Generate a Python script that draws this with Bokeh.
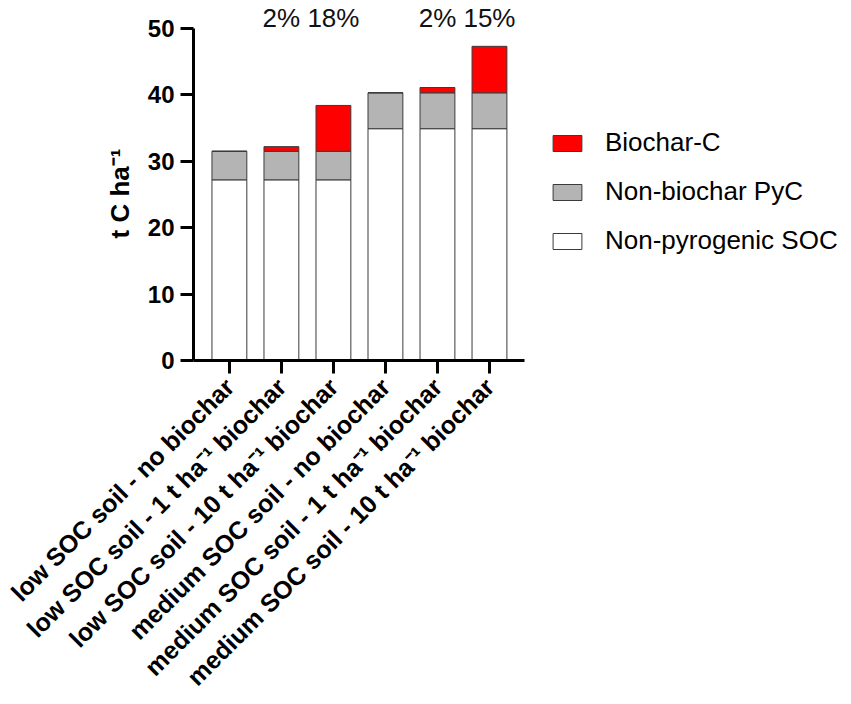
from math import pi
from bokeh.plotting import figure
from bokeh.models import Range1d, Legend, LegendItem, ColumnDataSource, FixedTicker, Title
from bokeh.embed import file_html
from bokeh.resources import INLINE
from bokeh.core.properties import value

# ---- data ----
categories = [
    "low SOC soil - no biochar",
    "low SOC soil - 1 t ha\u207b\u00b9 biochar",
    "low SOC soil - 10 t ha\u207b\u00b9 biochar",
    "medium SOC soil - no biochar",
    "medium SOC soil - 1 t ha\u207b\u00b9 biochar",
    "medium SOC soil - 10 t ha\u207b\u00b9 biochar",
]
non_pyrogenic_soc = [27.2, 27.2, 27.2, 34.9, 34.9, 34.9]
non_biochar_pyc = [4.3, 4.3, 4.3, 5.4, 5.4, 5.4]
biochar_c = [0.0, 0.7, 6.9, 0.0, 0.8, 7.0]
pct_labels = ["", "2%", "18%", "", "2%", "15%"]
y_ticks = [0, 10, 20, 30, 40, 50]
series_names = ["Non-pyrogenic SOC", "Non-biochar PyC", "Biochar-C"]
y_label = "t C ha\u207b\u00b9"

FONT = "Liberation Sans"

# category positions on a numeric scale (one unit per category)
xpos = [i + 0.5 for i in range(len(categories))]

src = ColumnDataSource(dict(
    x=xpos,
    soc=non_pyrogenic_soc,
    pyc=non_biochar_pyc,
    bc=biochar_c,
))

x_lo, x_hi = -0.19, len(categories) + 0.17

p = figure(
    width=851, height=704,
    x_range=Range1d(x_lo, 12.46),
    y_range=Range1d(0, 54.2),
    output_backend="svg", toolbar_location=None,
    min_border_left=193, min_border_right=0,
    min_border_top=0, min_border_bottom=344,
)

renderers = p.vbar_stack(
    ["soc", "pyc", "bc"], x="x", width=0.67, source=src,
    fill_color=["#ffffff", "#b4b4b4", "#ff0000"],
    line_color="#3a3a3a", line_width=1,
)

# percentage labels above the bars
lab_src = ColumnDataSource(dict(x=xpos, txt=pct_labels, y=[51.6] * len(categories)))
p.text(x="x", y="y", text="txt", source=lab_src,
       text_font=value(FONT), text_font_size="26px",
       text_align="center", text_baseline="middle", text_color="#111111")

# axes
p.xgrid.visible = False
p.ygrid.visible = False
p.outline_line_color = None

for ax in (p.xaxis[0], p.yaxis[0]):
    ax.axis_line_width = 3
    ax.axis_line_color = "#000000"
    ax.major_tick_line_width = 3
    ax.major_tick_line_color = "#000000"
    ax.major_tick_out = 13
    ax.major_tick_in = 0
    ax.minor_tick_line_color = None
    ax.major_label_text_font = FONT
    ax.major_label_text_font_style = "bold"
    ax.major_label_text_font_size = "24px"
    ax.major_label_text_color = "#000000"

yax = p.yaxis[0]
yax.ticker = FixedTicker(ticks=y_ticks)
yax.bounds = (0, 50)
yax.major_label_standoff = 6

# y-axis title, centred on the 0..50 span of the axis
ytitle = Title(text=y_label, align="left", offset=122, standoff=20,
               text_font=FONT, text_font_style="bold", text_font_size="26px",
               text_color="#000000")
p.add_layout(ytitle, "left")

xax = p.xaxis[0]
xax.ticker = FixedTicker(ticks=xpos)
xax.major_label_overrides = {x: c for x, c in zip(xpos, categories)}
xax.bounds = (x_lo, x_hi)
xax.major_label_orientation = pi / 4
xax.major_label_standoff = 9
xax.major_label_text_font_size = "25px"

legend = Legend(
    items=[
        LegendItem(label=series_names[2], renderers=[renderers[2]]),
        LegendItem(label=series_names[1], renderers=[renderers[1]]),
        LegendItem(label=series_names[0], renderers=[renderers[0]]),
    ],
    location=(356, 104),
    padding=0, margin=0, spacing=18,
    glyph_width=36, glyph_height=20, label_height=30, label_standoff=20,
    label_text_font=FONT, label_text_font_size="26px", label_text_color="#000000",
    border_line_color=None, background_fill_alpha=0,
)
p.add_layout(legend)

open("out.html", "w").write(file_html(p, INLINE))
